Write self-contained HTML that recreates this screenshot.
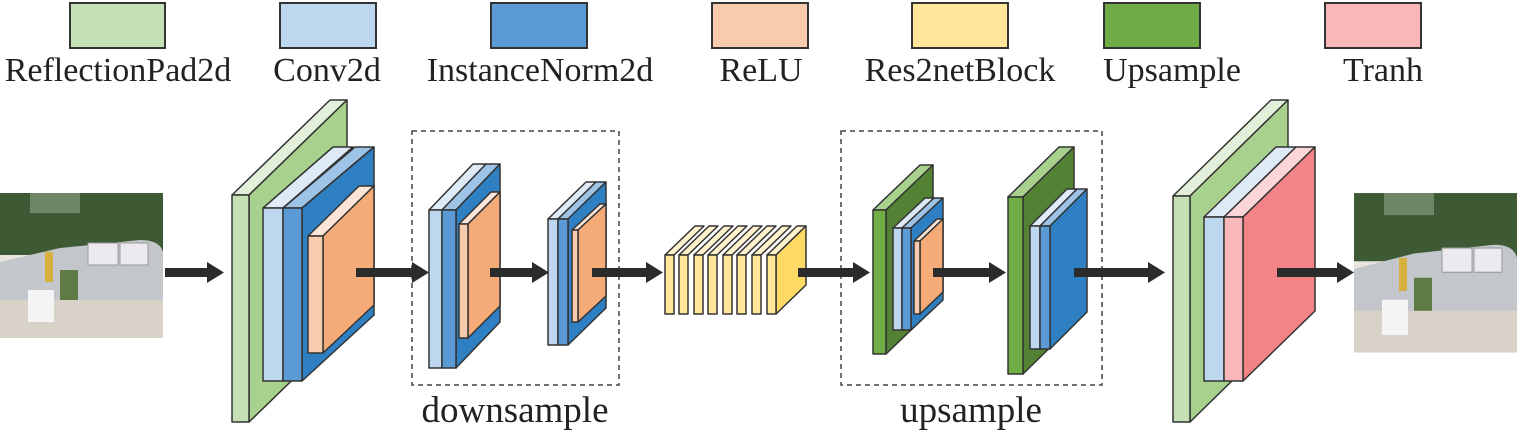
<!DOCTYPE html>
<html><head><meta charset="utf-8"><style>html,body{margin:0;padding:0;background:#fff}svg{display:block}</style></head>
<body>
<svg width="1519" height="432" viewBox="0 0 1519 432" xmlns="http://www.w3.org/2000/svg" font-family="Liberation Serif, serif">
<defs>
<g id="photo1">
<rect x="0" y="193" width="163" height="145" fill="#e8e4de"/>
<rect x="0" y="193" width="163" height="62" fill="#3e5a35"/>
<rect x="30" y="193" width="50" height="20" fill="#6f8766"/>
<path d="M0 262 L60 248 L140 240 Q160 240 163 252 L163 300 L0 305 Z" fill="#c3c7cc"/>
<rect x="88" y="243" width="30" height="22" fill="#eceaee" stroke="#999"/>
<rect x="120" y="243" width="28" height="22" fill="#eceaee" stroke="#999"/>
<rect x="0" y="300" width="163" height="38" fill="#d8d2c8"/>
<rect x="28" y="290" width="26" height="32" fill="#f4f4f4"/>
<rect x="45" y="252" width="8" height="30" fill="#d8b040"/>
<rect x="60" y="270" width="18" height="30" fill="#5e7a45"/>
</g>
</defs>
<g stroke="#333" stroke-width="2">
<rect x="70" y="3" width="95" height="45" fill="#c5e0b4"/>
<rect x="280" y="3" width="96" height="45" fill="#bdd7ee"/>
<rect x="491" y="3" width="96" height="45" fill="#5b9bd5"/>
<rect x="712" y="3" width="96" height="45" fill="#f8cbad"/>
<rect x="912" y="3" width="96" height="45" fill="#ffe699"/>
<rect x="1104" y="3" width="96" height="45" fill="#70ad47"/>
<rect x="1325" y="3" width="96" height="45" fill="#f9b7ba"/>
</g>
<g font-size="34" fill="#222" text-anchor="middle">
<text x="118" y="81">ReflectionPad2d</text>
<text x="327" y="81">Conv2d</text>
<text x="540" y="81">InstanceNorm2d</text>
<text x="761" y="81">ReLU</text>
<text x="960" y="81">Res2netBlock</text>
<text x="1172" y="81">Upsample</text>
<text x="1383" y="81">Tranh</text>
</g>
<g font-size="37" fill="#222" text-anchor="middle">
<text x="515" y="422">downsample</text>
<text x="971" y="422">upsample</text>
</g>
<g fill="none" stroke="#444" stroke-width="1.5" stroke-dasharray="5,4">
<rect x="412" y="131" width="207" height="254"/>
<rect x="841" y="131" width="261" height="254"/>
</g>

<use href="#photo1"/>
<use href="#photo1" transform="translate(1354,0) scale(1,1.1) translate(0,-17.5)"/>

<g stroke="#333" stroke-width="1.5" stroke-linejoin="round">
<polygon points="232,195 249,195 347,100 330,100" fill="#e2f0d9"/>
<polygon points="249,195 347,100 347,327 249,422" fill="#a9d18e"/>
<rect x="232" y="195" width="17" height="227" fill="#c5e0b4"/>
<polygon points="263,208 283,208 353,147 333,147" fill="#deebf7"/>
<rect x="263" y="208" width="20" height="173" fill="#bdd7ee"/>
<polygon points="283,208 302,208 374,147 355,147" fill="#9dc3e6"/>
<polygon points="302,208 374,147 374,315 302,381" fill="#2f7fc3"/>
<rect x="283" y="208" width="19" height="173" fill="#5b9bd5"/>
<polygon points="308,236 323,236 374,186 359,186" fill="#fbe5d6"/>
<polygon points="323,236 374,186 374,305 323,353" fill="#f4ab78"/>
<rect x="308" y="236" width="15" height="117" fill="#f8cbad"/>

<polygon points="429,210 442,210 486,164 473,164" fill="#deebf7"/>
<rect x="429" y="210" width="13" height="158" fill="#bdd7ee"/>
<polygon points="442,210 456,210 500,164 486,164" fill="#9dc3e6"/>
<polygon points="456,210 500,164 500,322 456,368" fill="#2f7fc3"/>
<rect x="442" y="210" width="14" height="158" fill="#5b9bd5"/>
<polygon points="459,224 468,224 500,192 491,192" fill="#fbe5d6"/>
<polygon points="468,224 500,192 500,306 468,338" fill="#f4ab78"/>
<rect x="459" y="224" width="9" height="114" fill="#f8cbad"/>

<polygon points="548,219 558,219 596,182 586,182" fill="#deebf7"/>
<rect x="548" y="219" width="10" height="126" fill="#bdd7ee"/>
<polygon points="558,219 568,219 606,182 596,182" fill="#9dc3e6"/>
<polygon points="568,219 606,182 606,308 568,345" fill="#2f7fc3"/>
<rect x="558" y="219" width="10" height="126" fill="#5b9bd5"/>
<polygon points="572,230 578,230 606,204 600,204" fill="#fbe5d6"/>
<polygon points="578,230 606,204 606,296 578,322" fill="#f4ab78"/>
<rect x="572" y="230" width="6" height="92" fill="#f8cbad"/>

<g fill="#fff2cc">
<polygon points="665,255 674,255 704,226 695,226"/>
<polygon points="679,255 688,255 718,226 709,226"/>
<polygon points="694,255 703,255 733,226 724,226"/>
<polygon points="708,255 717,255 747,226 738,226"/>
<polygon points="723,255 732,255 762,226 753,226"/>
<polygon points="737,255 746,255 776,226 767,226"/>
<polygon points="752,255 761,255 791,226 782,226"/>
<polygon points="767,255 776,255 806,226 797,226"/>
</g>
<polygon points="776,255 806,226 806,285 776,314" fill="#ffd966"/>
<g fill="#ffe699">
<rect x="665" y="255" width="9" height="59"/>
<rect x="679" y="255" width="9" height="59"/>
<rect x="694" y="255" width="9" height="59"/>
<rect x="708" y="255" width="9" height="59"/>
<rect x="723" y="255" width="9" height="59"/>
<rect x="737" y="255" width="9" height="59"/>
<rect x="752" y="255" width="9" height="59"/>
<rect x="767" y="255" width="9" height="59"/>
</g>

<polygon points="873,210 886,210 933,165 920,165" fill="#a9d18e"/>
<polygon points="886,210 933,165 933,309 886,354" fill="#548235"/>
<rect x="873" y="210" width="13" height="144" fill="#70ad47"/>
<polygon points="893,228 902,228 934,198 925,198" fill="#deebf7"/>
<rect x="893" y="228" width="9" height="102" fill="#bdd7ee"/>
<polygon points="902,228 911,228 943,198 934,198" fill="#9dc3e6"/>
<polygon points="911,228 943,198 943,300 911,330" fill="#2f7fc3"/>
<rect x="902" y="228" width="9" height="102" fill="#5b9bd5"/>
<polygon points="914,241 920,241 943,219 937,219" fill="#fbe5d6"/>
<polygon points="920,241 943,219 943,292 920,314" fill="#f4ab78"/>
<rect x="914" y="241" width="6" height="73" fill="#f8cbad"/>

<polygon points="1008,197 1023,197 1074,147 1059,147" fill="#a9d18e"/>
<polygon points="1023,197 1074,147 1074,324 1023,374" fill="#548235"/>
<rect x="1008" y="197" width="15" height="177" fill="#70ad47"/>
<polygon points="1030,226 1040,226 1077,189 1067,189" fill="#deebf7"/>
<rect x="1030" y="226" width="10" height="123" fill="#bdd7ee"/>
<polygon points="1040,226 1050,226 1087,189 1077,189" fill="#9dc3e6"/>
<polygon points="1050,226 1087,189 1087,312 1050,349" fill="#2f7fc3"/>
<rect x="1040" y="226" width="10" height="123" fill="#5b9bd5"/>

<polygon points="1173,196 1190,196 1288,100 1271,100" fill="#e2f0d9"/>
<polygon points="1190,196 1288,100 1288,326 1190,422" fill="#a9d18e"/>
<rect x="1173" y="196" width="17" height="226" fill="#c5e0b4"/>
<polygon points="1204,217 1224,217 1296,147 1276,147" fill="#deebf7"/>
<rect x="1204" y="217" width="20" height="164" fill="#bdd7ee"/>
<polygon points="1224,217 1243,217 1315,147 1296,147" fill="#fbd5d8"/>
<polygon points="1243,217 1315,147 1315,311 1243,381" fill="#f48387"/>
<rect x="1224" y="217" width="19" height="164" fill="#f9b7ba"/>
</g>

<g fill="#2b2b2b">
<rect x="165" y="268" width="44" height="9"/><polygon points="207,262 224,272.5 207,283"/>
<rect x="356" y="268" width="58" height="9"/><polygon points="412,262 429,272.5 412,283"/>
<rect x="490" y="268" width="44" height="9"/><polygon points="532,262 549,272.5 532,283"/>
<rect x="592" y="268" width="56" height="9"/><polygon points="646,262 663,272.5 646,283"/>
<rect x="798" y="268" width="57" height="9"/><polygon points="853,262 870,272.5 853,283"/>
<rect x="933" y="268" width="58" height="9"/><polygon points="989,262 1006,272.5 989,283"/>
<rect x="1074" y="268" width="76" height="9"/><polygon points="1148,262 1165,272.5 1148,283"/>
<rect x="1277" y="268" width="62" height="9"/><polygon points="1337,262 1354,272.5 1337,283"/>
</g>
</svg>
</body></html>
